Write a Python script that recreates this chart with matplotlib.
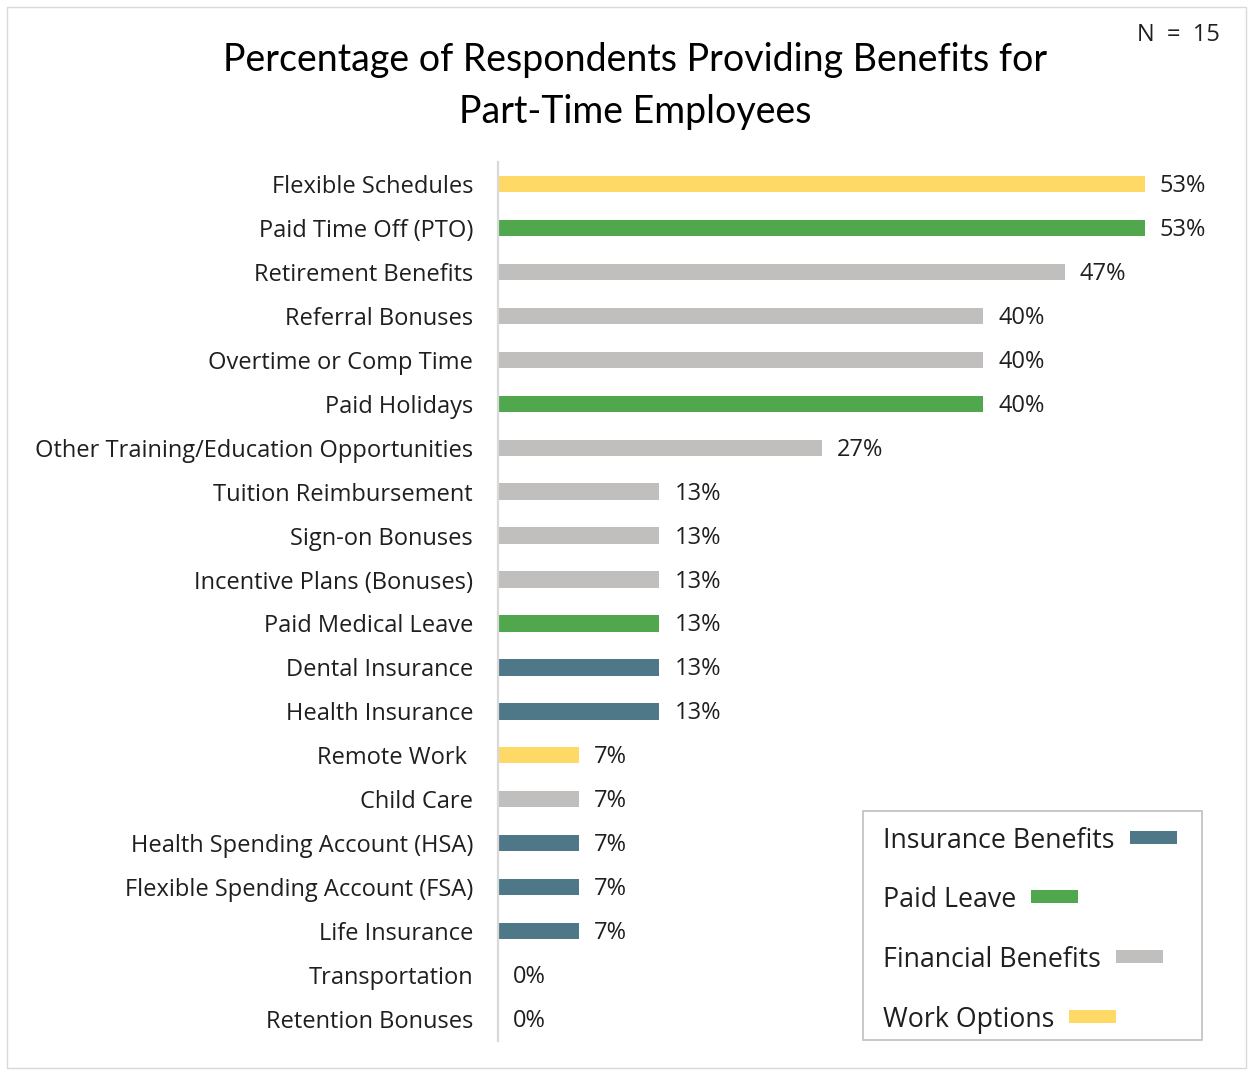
import matplotlib
matplotlib.use("Agg")
import matplotlib.pyplot as plt
from matplotlib.patches import Rectangle

categories = ["Flexible Schedules", "Paid Time Off (PTO)", "Retirement Benefits", "Referral Bonuses",
              "Overtime or Comp Time", "Paid Holidays", "Other Training/Education Opportunities",
              "Tuition Reimbursement", "Sign-on Bonuses", "Incentive Plans (Bonuses)", "Paid Medical Leave",
              "Dental Insurance", "Health Insurance", "Remote Work ", "Child Care",
              "Health Spending Account (HSA)", "Flexible Spending Account (FSA)", "Life Insurance",
              "Transportation", "Retention Bonuses"]
values = [53.3, 53.3, 46.7, 40.0, 40.0, 40.0, 26.7, 13.3, 13.3, 13.3, 13.3, 13.3, 13.3,
          6.7, 6.7, 6.7, 6.7, 6.7, 0.0, 0.0]
groups = ["Work Options", "Paid Leave", "Financial Benefits", "Financial Benefits", "Financial Benefits",
          "Paid Leave", "Financial Benefits", "Financial Benefits", "Financial Benefits", "Financial Benefits",
          "Paid Leave", "Insurance Benefits", "Insurance Benefits", "Work Options", "Financial Benefits",
          "Insurance Benefits", "Insurance Benefits", "Insurance Benefits", "Financial Benefits",
          "Financial Benefits"]
legend_order = ["Insurance Benefits", "Paid Leave", "Financial Benefits", "Work Options"]
group_colors = {"Insurance Benefits": "#4E7888", "Paid Leave": "#51A74E",
                "Financial Benefits": "#C0BFBE", "Work Options": "#FFD966"}

W, H = 1253, 1070
fig = plt.figure(figsize=(W / 100, H / 100), dpi=100)
fig.patches.append(Rectangle((7 / W, 2 / H), (1246 - 7) / W, (1066 - 5) / H, transform=fig.transFigure,
                             fill=False, edgecolor="#D9D9D9", linewidth=1.0))

lab_font = "Open Sans"
lab_w = "normal"
txt_col = "#1f1f1f"
ax = fig.add_axes([498 / W, 1 - 1041 / H, 728 / W, (1041 - 162) / H])
ypos = list(range(len(categories)))
ax.barh(ypos, values, height=0.37, color=[group_colors[g] for g in groups])
ax.set_ylim(len(categories) - 0.5, -0.5)
ax.set_xlim(0, 60)
ax.set_yticks(ypos)
ax.set_yticklabels(categories, fontsize=17, family=lab_font, fontweight=lab_w, color=txt_col)
ax.tick_params(axis="y", length=0, pad=18)
ax.set_xticks([])
for s in ["top", "right", "bottom"]:
    ax.spines[s].set_visible(False)
ax.spines["left"].set_color("#D9D9D9")
ax.spines["left"].set_linewidth(1.6)

for y, v in zip(ypos, values):
    ax.annotate(f"{round(v):.0f}%", (v, y), xytext=(15, -2), textcoords="offset pixels",
                va="center", ha="left", fontsize=17, family=lab_font, fontweight=lab_w, color=txt_col)

fig.text(635 / W, 1 - 60 / H, "Percentage of Respondents Providing Benefits for", ha="center", va="center",
         fontsize=27, family="Lato", color="black")
fig.text(635 / W, 1 - 112 / H, "Part-Time Employees", ha="center", va="center",
         fontsize=27, family="Lato", color="black")
fig.text(1220 / W, 1 - 35 / H, "N  =  15", ha="right", va="center", fontsize=17, family=lab_font,
         fontweight=lab_w, color=txt_col)

# legend box
fig.patches.append(Rectangle((863 / W, 1 - 1040 / H), (1202 - 863) / W, (1040 - 811) / H,
                             transform=fig.transFigure, fill=False, edgecolor="#BFBFBF", linewidth=1.2))
fig.canvas.draw()
renderer = fig.canvas.get_renderer()
leg_y = [841, 900, 960, 1020]
for name, yy in zip(legend_order, leg_y):
    t = fig.text(883 / W, 1 - yy / H, name, ha="left", va="center", fontsize=19.3, family=lab_font,
                 fontweight=lab_w, color=txt_col)
    bb = t.get_window_extent(renderer)
    x0 = bb.x1 + 15
    cy = yy - 4
    fig.patches.append(Rectangle((x0 / W, (H - cy - 6.5) / H), 47 / W, 13 / H, transform=fig.transFigure,
                                 facecolor=group_colors[name], edgecolor="none"))

fig.savefig("out.png", dpi=100)
